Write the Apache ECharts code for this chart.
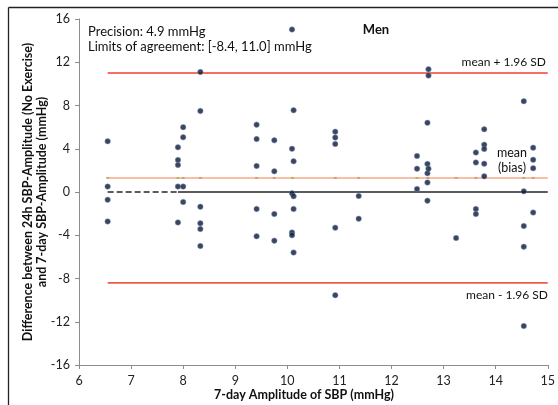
<!DOCTYPE html>
<html>
<head>
<meta charset="utf-8">
<script src="https://cdn.jsdelivr.net/npm/echarts@6/dist/echarts.min.js"></script>
<style>
html,body{margin:0;padding:0;background:#fff;}
#chart{width:558px;height:405px;}
</style>
</head>
<body>
<div id="chart"></div>
<script>
// 7-day amplitude of SBP (x) and difference 24h - 7-day amplitude (y), men
const amp7day = [
  6.55, 6.55, 6.55, 6.55,
  7.9, 7.9, 7.9, 7.9, 7.9,
  8.0, 8.0, 8.0, 8.0,
  8.33, 8.33, 8.33, 8.33, 8.33, 8.33,
  9.41, 9.41, 9.41, 9.41, 9.41,
  9.75, 9.75, 9.75, 9.75,
  10.09, 10.09, 10.09, 10.09, 10.09,
  10.12, 10.12, 10.12, 10.12, 10.12,
  10.92, 10.92, 10.92, 10.92, 10.92,
  11.37, 11.37,
  12.49, 12.49, 12.49,
  12.69, 12.69, 12.69, 12.69, 12.69,
  12.71, 12.71, 12.71,
  13.24,
  13.62, 13.62, 13.62, 13.62,
  13.78, 13.78, 13.78, 13.78, 13.78,
  14.54, 14.54, 14.54, 14.54, 14.54,
  14.72, 14.72, 14.72, 14.72
];
const diffAmp = [
  4.69, 0.5, -0.72, -2.72,
  4.13, 2.96, 2.5, 0.5, -2.81,
  6.0, 5.06, 0.5, -0.93,
  11.1, 7.5, -1.36, -2.9, -3.43, -5.0,
  6.23, 4.9, 2.41, -1.57, -4.1,
  4.78, 1.91, -2.04, -4.5,
  15.03, 4.0, -0.12, -3.74, -4.0,
  7.56, 2.84, -0.4, -1.57, -5.6,
  5.58, 5.03, 4.44, -3.3, -9.54,
  -0.37, -2.47,
  3.33, 2.16, 0.28,
  6.4, 2.6, 1.73, 0.88, -0.8,
  11.36, 10.77, 2.16,
  -4.26,
  3.65, 2.73, -1.57, -2.04,
  5.8, 4.38, 3.98, 2.62, 1.45,
  8.4, 0.06, -3.15, -5.06, -12.4,
  4.1, 2.98, 2.2, -1.9
];
const meanBias = 1.3;
const upperLoA = 11.0;
const lowerLoA = -8.4;
const lineRange = [6.55, 15];
const zeroDashedRange = [6.55, 7.9];
const zeroSolidRange = [7.9, 15];
const meanMarkerX = [6.55, 7.9, 8.0, 8.33, 9.41, 9.75, 10.1, 10.92, 11.37, 12.49, 12.7, 13.24, 13.62, 13.78, 14.54, 14.72];
const xTicks = [6, 15, 1];
const yTicks = [-16, 16, 4];

const FONT = 'Lato, "Open Sans", sans-serif';
const chart = echarts.init(document.getElementById('chart'), null, {renderer: 'canvas'});

function seg(range, y) { return range.map(x => [x, y]); }

const option = {
  animation: false,
  backgroundColor: '#fff',
  grid: {left: 79, right: 7, top: 19, bottom: 40, containLabel: false},
  xAxis: {
    type: 'value', min: xTicks[0], max: xTicks[1], interval: xTicks[2],
    axisLine: {show: true, onZero: false, lineStyle: {color: '#8c8c8c', width: 1}},
    axisTick: {show: true, inside: false, length: 4, lineStyle: {color: '#8c8c8c'}},
    axisLabel: {color: '#222', fontFamily: FONT, fontSize: 12.5, margin: 9},
    splitLine: {show: false}
  },
  yAxis: {
    type: 'value', min: yTicks[0], max: yTicks[1], interval: yTicks[2],
    axisLine: {show: true, onZero: false, lineStyle: {color: '#8c8c8c', width: 1}},
    axisTick: {show: true, inside: false, length: 4, lineStyle: {color: '#8c8c8c'}},
    axisLabel: {color: '#222', fontFamily: FONT, fontSize: 12.5, margin: 9},
    splitLine: {show: false}
  },
  series: [
    {type: 'line', data: seg(lineRange, upperLoA), symbol: 'none', silent: true,
     lineStyle: {color: '#f2412e', width: 1.6}, z: 2},
    {type: 'line', data: seg(lineRange, lowerLoA), symbol: 'none', silent: true,
     lineStyle: {color: '#f25a48', width: 1.6}, z: 2},
    {type: 'line', data: seg(lineRange, meanBias), symbol: 'none', silent: true,
     lineStyle: {color: '#f9bfa6', width: 2}, z: 2},
    {type: 'scatter', data: meanMarkerX.map(x => [x, meanBias]), symbol: 'rect',
     symbolSize: [3, 2], itemStyle: {color: '#b9a55e'}, silent: true, z: 3},
    {type: 'line', data: seg(zeroDashedRange, 0), symbol: 'none', silent: true,
     lineStyle: {color: '#5c5c5c', width: 2, type: [6, 3]}, z: 2},
    {type: 'line', data: seg(zeroSolidRange, 0), symbol: 'none', silent: true,
     lineStyle: {color: '#5c5c5c', width: 2}, z: 2},
    {type: 'scatter', data: amp7day.map((x, i) => [x, diffAmp[i]]),
     symbol: 'circle', symbolSize: 5.5,
     itemStyle: {color: '#0a1632', borderColor: '#7f97c4', borderWidth: 0.6}, z: 5}
  ],
  graphic: [
    {type: 'line', shape: {x1: 8.5, y1: 7.5, x2: 560, y2: 7.5}, style: {stroke: '#222', lineWidth: 1.3}, silent: true},
    {type: 'line', shape: {x1: 8.5, y1: 7.5, x2: 8.5, y2: 410}, style: {stroke: '#222', lineWidth: 1.3}, silent: true},
    {type: 'text', x: 88, y: 32, style: {text: 'Precision: 4.9 mmHg', font: '13px ' + FONT, fill: '#111', verticalAlign: 'middle'}},
    {type: 'text', x: 88, y: 47, style: {text: 'Limits of agreement: [-8.4, 11.0] mmHg', font: '13px ' + FONT, fill: '#111', verticalAlign: 'middle'}},
    {type: 'text', x: 376, y: 30, style: {text: 'Men', font: 'bold 13px ' + FONT, fill: '#111', align: 'center', verticalAlign: 'middle'}},
    {type: 'text', x: 546, y: 62, style: {text: 'mean + 1.96 SD', font: '12px ' + FONT, fill: '#111', align: 'right', verticalAlign: 'middle'}},
    {type: 'text', x: 548, y: 295, style: {text: 'mean - 1.96 SD', font: '12px ' + FONT, fill: '#111', align: 'right', verticalAlign: 'middle'}},
    {type: 'text', x: 512, y: 153, style: {text: 'mean', font: '12.5px ' + FONT, fill: '#111', align: 'center', verticalAlign: 'middle'}},
    {type: 'text', x: 512, y: 168, style: {text: '(bias)', font: '12.5px ' + FONT, fill: '#111', align: 'center', verticalAlign: 'middle'}},
    {type: 'text', x: 304, y: 395, style: {text: '7-day Amplitude of SBP (mmHg)', font: 'bold 12.5px ' + FONT, fill: '#111', align: 'center', verticalAlign: 'middle'}},
    {type: 'text', x: 28, y: 192, rotation: Math.PI / 2, style: {text: 'Difference between 24h SBP-Amplitude (No Exercise)', font: 'bold 12.5px ' + FONT, fill: '#111', align: 'center', verticalAlign: 'middle'}},
    {type: 'text', x: 42, y: 192, rotation: Math.PI / 2, style: {text: 'and 7-day SBP-Amplitude (mmHg)', font: 'bold 12.5px ' + FONT, fill: '#111', align: 'center', verticalAlign: 'middle'}}
  ]
};
chart.setOption(option);
</script>
</body>
</html>
